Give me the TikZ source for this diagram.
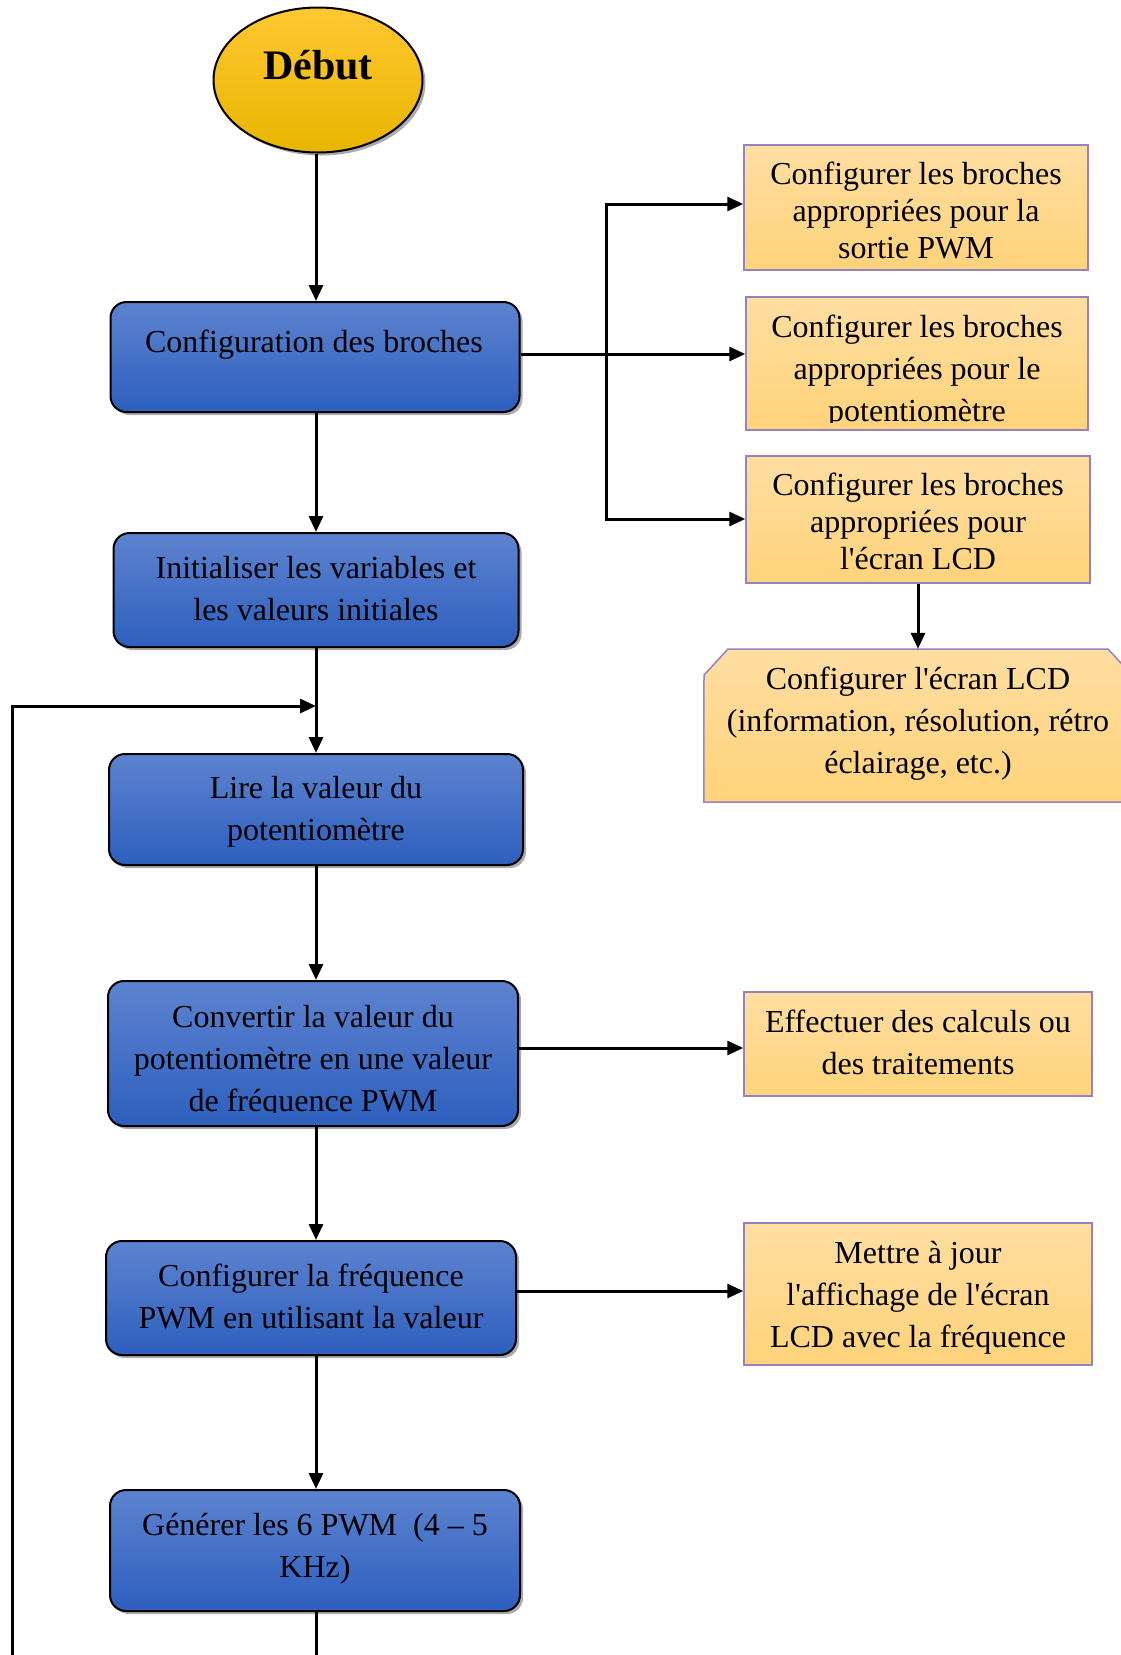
\documentclass[tikz,border=0pt]{standalone}
\usepackage{fontspec}
\setmainfont{Liberation Serif}[Ligatures=TeXOff]
\usetikzlibrary{arrows.meta,shadows,shapes.geometric}
\definecolor{bluetop}{RGB}{93,131,207}
\definecolor{bluebot}{RGB}{45,95,190}
\definecolor{orgtop}{RGB}{255,222,162}
\definecolor{orgbot}{RGB}{255,211,122}
\definecolor{orgedge}{RGB}{150,130,190}
\definecolor{goldtop}{RGB}{255,200,50}
\definecolor{goldbot}{RGB}{232,182,0}
\begin{document}
\begin{tikzpicture}[x=1pt,y=-1pt,
  bluebox/.style={draw=black, line width=2pt, rounded corners=16pt, top color=bluetop, bottom color=bluebot,
    drop shadow={shadow xshift=3pt,shadow yshift=-3pt,fill=black!65}, inner sep=0pt},
  orgbox/.style={draw=orgedge, line width=1.5pt, top color=orgtop, bottom color=orgbot, inner sep=0pt},
  txt/.style={inner sep=0pt, align=center, font=\fontsize{32}{42}\selectfont},
  txtb/.style={inner sep=0pt, align=center, font=\fontsize{32}{37}\selectfont},
  conn/.style={line width=3pt, -{Triangle[length=16pt,width=14pt]}},
  plain/.style={line width=3pt}]
\useasboundingbox (0,0) rectangle (1120,1655);
\fill[white] (0,0) rectangle (1120,1655);

% start
\node[ellipse, draw=black, line width=2pt, top color=goldtop, bottom color=goldbot,
  drop shadow={shadow xshift=3pt,shadow yshift=-3pt,fill=black!65},
  minimum width=209pt, minimum height=145pt, inner sep=0pt] (debut) at (318,80) {};
\node[inner sep=0pt, font=\bfseries\fontsize{42}{50}\selectfont] (debutt) at (318,65) {Début};

% blue boxes
\node[bluebox, minimum width=409pt, minimum height=110pt] (b1) at (315,357) {};
\node[bluebox, minimum width=405pt, minimum height=114pt] (b2) at (316,590) {};
\node[bluebox, minimum width=414pt, minimum height=111pt] (b3) at (316,809.5) {};
\node[bluebox, minimum width=410pt, minimum height=145pt] (b4) at (313,1053.5) {};
\node[bluebox, minimum width=410pt, minimum height=114pt] (b5) at (311,1298) {};
\node[bluebox, minimum width=410pt, minimum height=121pt] (b6) at (315,1550.5) {};

\node[txt] (t1) at (314,345) {Configuration des broches};
\node[txt] (t2) at (316,588.5) {Initialiser les variables et\\les valeurs initiales};
\node[txt] (t3) at (316,812) {Lire la valeur du\\potentiomètre};
\begin{scope}
  \clip (b4.north west) rectangle (b4.east |- 0,1112);
  \node[txt] (t4) at (313,1061.5) {Convertir la valeur du\\potentiomètre en une valeur\\de fréquence PWM};
\end{scope}
\node[txt] (t5) at (311,1296) {Configurer la fréquence\\PWM en utilisant la valeur};
\node[txt] (t6) at (315,1548.5) {Générer les 6 PWM~~(4 – 5\\KHz)};

% orange boxes
\node[orgbox, minimum width=344pt, minimum height=125pt] (r1) at (916,207.5) {};
\node[orgbox, minimum width=342pt, minimum height=133pt] (r2) at (917,363.5) {};
\node[orgbox, minimum width=344pt, minimum height=127pt] (r3) at (918,519.5) {};
\node[inner sep=0pt, minimum width=428pt, minimum height=153pt] (r4) at (918,725.5) {};
\path[orgbox] (r4.south west) -- (704,675) -- (728,649) -- (1108,649) -- (1132,675) -- (r4.south east) -- cycle;
\node[orgbox, minimum width=348pt, minimum height=104pt] (r5) at (918,1044) {};
\node[orgbox, minimum width=348pt, minimum height=142pt] (r6) at (918,1294) {};

\node[txtb] (u1) at (916,210.5) {Configurer les broches\\appropriées pour la\\sortie PWM};
\begin{scope}
  \clip (r2.north west) rectangle (r2.east |- 0,422);
  \node[txt] (u2) at (917,372) {Configurer les broches\\appropriées pour le\\potentiomètre};
\end{scope}
\node[txtb] (u3) at (918,521) {Configurer les broches\\appropriées pour\\l'écran LCD};
\node[txt] (u4) at (918,724) {Configurer l'écran LCD\\(information, résolution, rétro\\éclairage, etc.)};
\node[txt] (u5) at (918,1042.5) {Effectuer des calculs ou\\des traitements};
\node[txt] (u6) at (918,1297.5) {Mettre à jour\\l'affichage de l'écran\\LCD avec la fréquence};

% main spine
\coordinate (sp) at (316,0);
\draw[conn] (debut.south -| sp) -- (b1.north -| sp);
\draw[conn] (b1.south -| sp) -- (b2.north -| sp);
\draw[conn] (b2.south -| sp) -- (b3.north -| sp);
\draw[conn] (b3.south -| sp) -- (b4.north -| sp);
\draw[conn] (b4.south -| sp) -- (b5.north -| sp);
\draw[conn] (b5.south -| sp) -- (b6.north -| sp);
\coordinate (endb) at (316,1660);
\draw[plain] (b6.south -| sp) -- (endb);

% feedback loop
\coordinate (loopb) at (12,1660);
\coordinate (loopt) at (12,706);
\draw[conn] (loopb) -- (loopt) -- (sp |- loopt);

% branches
\coordinate (ya) at (0,354);
\coordinate (yb) at (0,204);
\coordinate (yc) at (0,519);
\coordinate (yd) at (0,1048);
\coordinate (ye) at (0,1291);
\coordinate (brx) at (606,0);
\draw[conn] (b1.east |- ya) -- (r2.west |- ya);
\draw[conn] (brx |- ya) -- (brx |- yb) -- (r1.west |- yb);
\draw[conn] (brx |- ya) -- (brx |- yc) -- (r3.west |- yc);
\draw[conn] (r3.south) -- (r4.north);
\draw[conn] (b4.east |- yd) -- (r5.west |- yd);
\draw[conn] (b5.east |- ye) -- (r6.west |- ye);
\end{tikzpicture}
\end{document}
